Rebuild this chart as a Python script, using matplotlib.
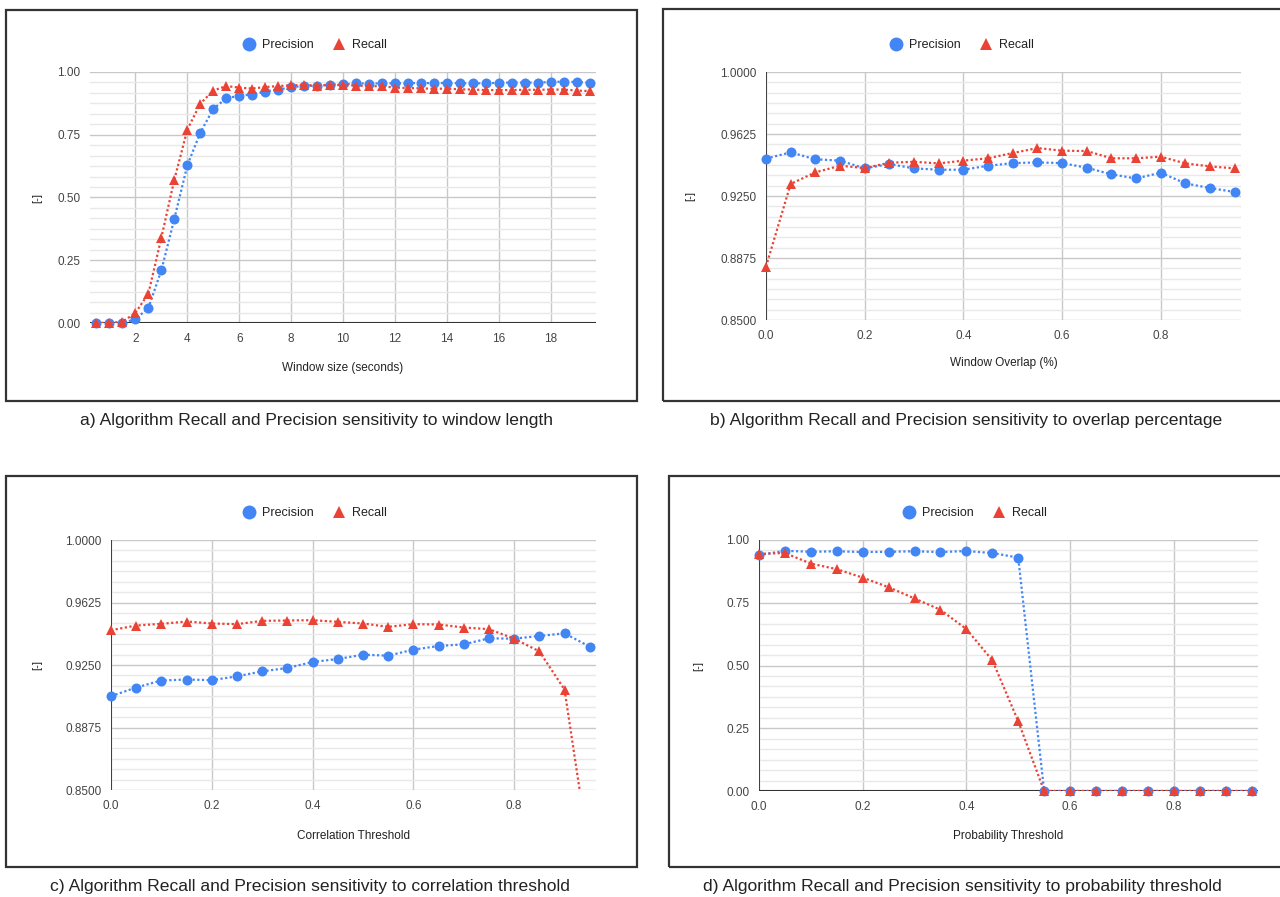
import numpy as np
import matplotlib
matplotlib.use('Agg')
import matplotlib.pyplot as plt
from matplotlib.lines import Line2D
from matplotlib.patches import Rectangle
from matplotlib.ticker import FixedLocator

plt.rcParams['font.family'] = ['Liberation Sans', 'DejaVu Sans']

''' DATA '''
# a) window length
win_size = [0.5, 1, 1.5, 2, 2.5, 3, 3.5, 4, 4.5, 5, 5.5, 6, 6.5, 7, 7.5, 8, 8.5, 9, 9.5, 10,
            10.5, 11, 11.5, 12, 12.5, 13, 13.5, 14, 14.5, 15, 15.5, 16, 16.5, 17, 17.5, 18,
            18.5, 19, 19.5]
win_prec = [0, 0, 0, 0.015, 0.06, 0.21, 0.415, 0.628, 0.758, 0.853, 0.895, 0.906, 0.91, 0.922,
            0.93, 0.939, 0.945, 0.945, 0.95, 0.951, 0.955, 0.954, 0.955, 0.955, 0.955, 0.957,
            0.955, 0.957, 0.955, 0.955, 0.955, 0.957, 0.958, 0.958, 0.958, 0.96, 0.962, 0.96, 0.958]
win_rec = [0, 0, 0.005, 0.04, 0.117, 0.34, 0.571, 0.77, 0.874, 0.926, 0.944, 0.938, 0.934, 0.94,
           0.944, 0.947, 0.948, 0.946, 0.948, 0.948, 0.946, 0.944, 0.943, 0.938, 0.936, 0.935,
           0.933, 0.934, 0.931, 0.93, 0.928, 0.928, 0.928, 0.929, 0.929, 0.93, 0.93, 0.926, 0.924]

# thresholds shared by b, c, d
thr = [0.0, 0.05, 0.1, 0.15, 0.2, 0.25, 0.3, 0.35, 0.4, 0.45, 0.5, 0.55, 0.6, 0.65, 0.7, 0.75,
       0.8, 0.85, 0.9, 0.95]

# b) overlap
ovl_prec = [0.9476, 0.9514, 0.9472, 0.9464, 0.9417, 0.9443, 0.9417, 0.9409, 0.9409, 0.9433,
            0.9449, 0.9453, 0.9449, 0.9421, 0.9381, 0.9356, 0.9391, 0.9326, 0.9298, 0.9274]
ovl_rec = [0.8823, 0.9323, 0.9393, 0.9433, 0.9419, 0.9451, 0.9457, 0.9447, 0.9464, 0.9478,
           0.9510, 0.9540, 0.9524, 0.9522, 0.9478, 0.9478, 0.9488, 0.9447, 0.9429, 0.9417]

# c) correlation threshold
cor_prec = [0.9063, 0.9115, 0.9157, 0.9163, 0.9159, 0.9182, 0.9212, 0.9232, 0.9268, 0.9286,
            0.9312, 0.9306, 0.9342, 0.9364, 0.9374, 0.9410, 0.9408, 0.9424, 0.9440, 0.9360]
cor_rec = [0.9459, 0.9487, 0.9497, 0.9511, 0.9499, 0.9495, 0.9515, 0.9517, 0.9519, 0.9509,
           0.9499, 0.9479, 0.9495, 0.9493, 0.9475, 0.9465, 0.9408, 0.9332, 0.9103, 0.81]

# d) probability threshold
prob_prec = [0.940, 0.957, 0.953, 0.955, 0.952, 0.953, 0.955, 0.952, 0.956, 0.948, 0.930,
             0, 0, 0, 0, 0, 0, 0, 0, 0]
prob_rec = [0.945, 0.948, 0.906, 0.884, 0.850, 0.812, 0.767, 0.722, 0.645, 0.521, 0.278,
            0, 0, 0, 0, 0, 0, 0, 0, 0]

BLUE = '#4285F4'
RED = '#EA4335'
W, H = 1280, 897

fig = plt.figure(figsize=(W / 100, H / 100), dpi=100)


def fx(px):
    return px / W


def fy(py):
    return 1 - py / H


def series(ax, x, y, ylim, color, marker, ms, z):
    ax.plot(x, y, linestyle=(0, (1, 1.1)), lw=1.6, color=color, zorder=z)
    # markers are not clipped at the plot edge, but values outside the range are hidden
    y = np.array(y, dtype=float)
    y[(y < ylim[0] - 1e-9) | (y > ylim[1] + 1e-9)] = np.nan
    ax.plot(x, y, ls='none', color=color, marker=marker, ms=ms, mew=0, zorder=z,
            clip_on=False)


def panel(plot_px, box_px, leg_px, cap_px, ylab_x, xlab_y, x, prec, rec, xlim, ylim,
          yticks, yfmt, xticks, xfmt, xlabel, caption, vbase, hbase):
    l, t, r, b = plot_px
    ax = fig.add_axes([fx(l), fy(b), fx(r - l), (b - t) / H])
    series(ax, x, prec, ylim, BLUE, 'o', 7.2, 3)
    series(ax, x, rec, ylim, RED, '^', 6.5, 4)
    ax.set_xlim(xlim)
    ax.set_ylim(ylim)
    ax.set_yticks(yticks)
    ax.set_yticklabels([yfmt % v for v in yticks])
    ax.set_xticks(xticks)
    ax.set_xticklabels([xfmt % v for v in xticks])
    step = yticks[1] - yticks[0]
    minors = [yticks[0] + step * k / 6 for k in range(6 * (len(yticks) - 1) + 1) if k % 6]
    ax.yaxis.set_minor_locator(FixedLocator(minors))
    ax.grid(which='major', color='#c8c8c8', lw=1)
    ax.grid(which='minor', axis='y', color='#e8e8e8', lw=1)
    ax.tick_params(which='both', length=0, labelsize=8.5, labelcolor='#444444')
    ax.tick_params(axis='y', pad=7)
    ax.tick_params(axis='x', pad=7)
    for s in ax.spines.values():
        s.set_visible(False)
    if vbase:
        ax.axvline(0, color='#333333', lw=1.3, zorder=2)
    if hbase:
        ax.axhline(0, color='#333333', lw=1.5, zorder=2)
    ax.set_axisbelow(True)

    # frame round the panel
    bl, bt, br, bb = box_px
    fig.patches.append(Rectangle((fx(bl), fy(bb)), fx(br - bl), (bb - bt) / H, fill=False,
                                 edgecolor='#333333', lw=1.6, transform=fig.transFigure))
    # legend
    handles = [Line2D([], [], marker='o', ls='none', color=BLUE, ms=10, mew=0, label='Precision'),
               Line2D([], [], marker='^', ls='none', color=RED, ms=8, mew=0, label='Recall')]
    fig.legend(handles=handles, loc='center', bbox_to_anchor=(fx(leg_px[0]), fy(leg_px[1])),
               ncol=2, frameon=False, fontsize=9, handletextpad=0.55, columnspacing=1.5,
               handlelength=1.0, labelcolor='#222222')
    fig.text(fx(ylab_x), fy((t + b) / 2), '[-]', rotation=90, ha='center', va='center',
             fontsize=8, color='#222222')
    fig.text(fx((l + r) / 2), fy(xlab_y), xlabel, ha='center', va='center', fontsize=8.5,
             color='#222222')
    fig.text(fx(cap_px[0]), fy(cap_px[1]), caption, ha='center', va='center', fontsize=12.6,
             color='#222222')
    return ax


panel((90, 72, 596, 323), (6, 10, 637, 401), (315, 45), (316, 420), 37, 368,
      win_size, win_prec, win_rec, (0.25, 19.75), (0, 1), [0, 0.25, 0.5, 0.75, 1.0], '%.2f',
      [2, 4, 6, 8, 10, 12, 14, 16, 18], '%d', 'Window size (seconds)',
      'a) Algorithm Recall and Precision sensitivity to window length', False, True)

panel((766, 72, 1241, 320), (663, 9, 1295, 401), (962, 45), (966, 420), 690, 363,
      thr, ovl_prec, ovl_rec, (0, 0.9625), (0.85, 1.0), [0.85, 0.8875, 0.925, 0.9625, 1.0],
      '%.4f', [0, 0.2, 0.4, 0.6, 0.8], '%.1f', 'Window Overlap (%)',
      'b) Algorithm Recall and Precision sensitivity to overlap percentage', True, False)

panel((111, 540, 596, 790), (6, 476, 637, 867), (315, 513), (310, 886), 37, 836,
      thr, cor_prec, cor_rec, (0, 0.9625), (0.85, 1.0), [0.85, 0.8875, 0.925, 0.9625, 1.0],
      '%.4f', [0, 0.2, 0.4, 0.6, 0.8], '%.1f', 'Correlation Threshold',
      'c) Algorithm Recall and Precision sensitivity to correlation threshold', True, False)

panel((759, 540, 1258, 791), (669, 476, 1295, 867), (975, 513), (962, 886), 698, 836,
      thr, prob_prec, prob_rec, (0, 0.9625), (0, 1.0), [0, 0.25, 0.5, 0.75, 1.0],
      '%.2f', [0, 0.2, 0.4, 0.6, 0.8], '%.1f', 'Probability Threshold',
      'd) Algorithm Recall and Precision sensitivity to probability threshold', True, True)

fig.savefig('out.png', dpi=100)
